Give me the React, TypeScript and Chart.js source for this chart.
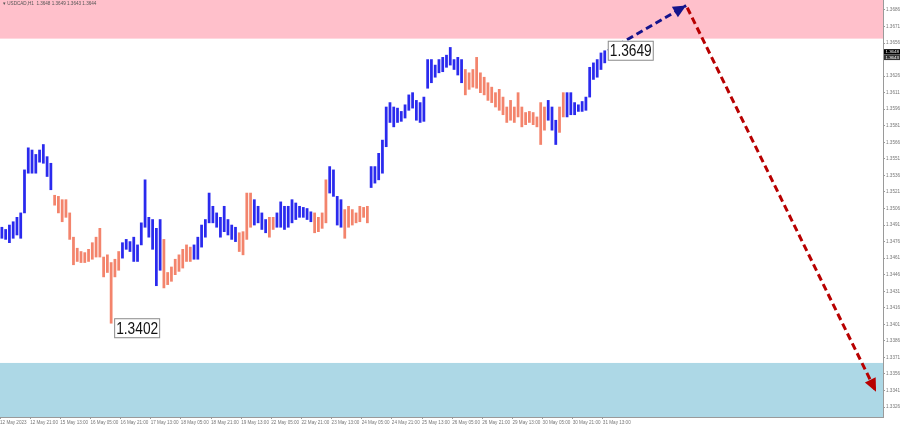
import React, { useEffect, useRef } from "react";
import { Chart, registerables } from "chart.js";
Chart.register(...registerables);

// Each entry = 2 hourly bars (low / high), H1 USDCAD
const barLows = [
  1.3479, 1.3478, 1.3475, 1.3479, 1.3482, 1.3479, 1.3502, 1.3538, 1.3538, 1.3538,
  1.3548, 1.3547, 1.3535, 1.3523, 1.3509, 1.3502, 1.3494, 1.3498, 1.3478, 1.3455,
  1.3458, 1.3457, 1.3457, 1.3458, 1.3460, 1.3462, 1.3462, 1.3444, 1.3448, 1.3402,
  1.3444, 1.3450, 1.3461, 1.3469, 1.3467, 1.3458, 1.3458, 1.3473, 1.3489, 1.3480,
  1.3469, 1.3436, 1.3450, 1.3434, 1.3437, 1.3440, 1.3446, 1.3449, 1.3452, 1.3458,
  1.3458, 1.3460, 1.3460, 1.3471, 1.3480, 1.3493, 1.3493, 1.3489, 1.3480, 1.3485,
  1.3482, 1.3478, 1.3476, 1.3467, 1.3464, 1.3478, 1.3489, 1.3491, 1.3493, 1.3487,
  1.3484, 1.3480, 1.3487, 1.3489, 1.3489, 1.3487, 1.3489, 1.3493, 1.3496, 1.3498,
  1.3498, 1.3496, 1.3494, 1.3484, 1.3485, 1.3488, 1.3493, 1.3520, 1.3517, 1.3491,
  1.3489, 1.3479, 1.3489, 1.3491, 1.3493, 1.3494, 1.3498, 1.3493, 1.3525, 1.3529,
  1.3532, 1.3538, 1.3562, 1.3584, 1.3580, 1.3584, 1.3585, 1.3588, 1.3595, 1.3597,
  1.3586, 1.3584, 1.3585, 1.3615, 1.3620, 1.3625, 1.3629, 1.3630, 1.3634, 1.3636,
  1.3632, 1.3627, 1.3620, 1.3609, 1.3614, 1.3616, 1.3615, 1.3611, 1.3609, 1.3604,
  1.3602, 1.3598, 1.3595, 1.3591, 1.3584, 1.3586, 1.3584, 1.3589, 1.3580, 1.3582,
  1.3584, 1.3582, 1.3580, 1.3564, 1.3577, 1.3586, 1.3577, 1.3564, 1.3575, 1.3589,
  1.3589, 1.3591, 1.3591, 1.3594, 1.3594, 1.3595, 1.3607, 1.3623, 1.3625, 1.3632,
  1.3638,
];
const barHighs = [
  1.3489, 1.3487, 1.3491, 1.3494, 1.3498, 1.3502, 1.3541, 1.3561, 1.3559, 1.3555,
  1.3559, 1.3564, 1.3553, 1.3547, 1.3518, 1.3517, 1.3514, 1.3514, 1.3502, 1.3480,
  1.3470, 1.3467, 1.3466, 1.3469, 1.3475, 1.3480, 1.3488, 1.3462, 1.3464, 1.3457,
  1.3460, 1.3467, 1.3475, 1.3478, 1.3476, 1.3480, 1.3473, 1.3493, 1.3532, 1.3498,
  1.3496, 1.3488, 1.3496, 1.3478, 1.3448, 1.3453, 1.3460, 1.3464, 1.3469, 1.3473,
  1.3471, 1.3473, 1.3480, 1.3491, 1.3496, 1.3520, 1.3508, 1.3502, 1.3498, 1.3508,
  1.3496, 1.3491, 1.3489, 1.3484, 1.3485, 1.3520, 1.3520, 1.3514, 1.3508, 1.3502,
  1.3496, 1.3498, 1.3498, 1.3502, 1.3512, 1.3508, 1.3508, 1.3514, 1.3511, 1.3508,
  1.3507, 1.3506, 1.3503, 1.3502, 1.3498, 1.3502, 1.3532, 1.3544, 1.3541, 1.3517,
  1.3514, 1.3505, 1.3508, 1.3505, 1.3502, 1.3508, 1.3507, 1.3508, 1.3544, 1.3544,
  1.3556, 1.3568, 1.3598, 1.3602, 1.3598, 1.3597, 1.3594, 1.3600, 1.3609, 1.3611,
  1.3604, 1.3602, 1.3607, 1.3641, 1.3641, 1.3636, 1.3641, 1.3643, 1.3645, 1.3652,
  1.3641, 1.3643, 1.3641, 1.3632, 1.3629, 1.3632, 1.3643, 1.3629, 1.3625, 1.3620,
  1.3616, 1.3611, 1.3614, 1.3607, 1.3598, 1.3604, 1.3598, 1.3611, 1.3598, 1.3593,
  1.3594, 1.3593, 1.3589, 1.3602, 1.3598, 1.3604, 1.3598, 1.3586, 1.3598, 1.3611,
  1.3611, 1.3611, 1.3602, 1.3600, 1.3603, 1.3607, 1.3634, 1.3638, 1.3641, 1.3647,
  1.3649,
];
// entry index where each wave segment starts (colours alternate, first is blue)
const waveStarts = [0, 14, 32, 43, 51, 63, 67, 71, 73, 83, 87, 91, 98, 123, 145, 148, 150];
const waveColors = ["#2a2aee", "#f3846c"];
const hoursPerEntry = 2;

const xTickHours = [0, 16, 32, 48, 64, 80, 96, 112, 128, 144, 160, 176, 192, 208, 224, 240, 256, 272, 288, 304, 320];
const xTickLabels = [
  "12 May 2023", "12 May 21:00", "15 May 13:00", "16 May 05:00", "16 May 21:00", "17 May 13:00",
  "18 May 05:00", "18 May 21:00", "19 May 13:00", "22 May 05:00", "22 May 21:00", "23 May 13:00",
  "24 May 05:00", "24 May 21:00", "25 May 13:00", "26 May 05:00", "26 May 21:00", "29 May 13:00",
  "30 May 05:00", "30 May 21:00", "31 May 13:00",
];
const yTickLabels = [
  "1.3686", "1.3671", "1.3656", "1.3626", "1.3611", "1.3596", "1.3581", "1.3566", "1.3551",
  "1.3536", "1.3521", "1.3506", "1.3491", "1.3476", "1.3461", "1.3446", "1.3431", "1.3416",
  "1.3401", "1.3386", "1.3371", "1.3356", "1.3341", "1.3326",
];
const priceMin = 1.3317;
const priceMax = 1.3695;
const hourMax = 468.7;

const resistanceZone = [1.366, 1.3695];
const supportZone = [1.3317, 1.3366];
const forecastUp = [{ x: 322.7, y: 1.3649 }, { x: 364.2, y: 1.369 }];
const forecastDown = [{ x: 364.8, y: 1.3688 }, { x: 465, y: 1.334 }];

const highLabel = { text: "1.3649", hour: 321, price: 1.3649 };
const lowLabel = { text: "1.3402", hour: 59, price: 1.3402 };
const bidAsk = [{ text: "1.3648", price: 1.3648 }, { text: "1.3643", price: 1.3643 }];
const headerText = "USDCAD,H1  1.3648 1.3649 1.3643 1.3644";

function colorFor(i: number) {
  let k = 0;
  for (let s = 0; s < waveStarts.length; s++) if (waveStarts[s] <= i) k = s;
  return waveColors[k % 2];
}

const overlayPlugin = {
  id: "overlay",
  beforeDatasetsDraw(chart: any) {
    const { ctx, chartArea: a, scales } = chart;
    const y = scales.y;
    ctx.save();
    const zone = (z: number[], col: string) => {
      const top = Math.max(a.top, y.getPixelForValue(z[1]));
      const bot = Math.min(a.bottom, y.getPixelForValue(z[0]));
      ctx.fillStyle = col;
      ctx.fillRect(a.left, top, a.right - a.left, bot - top);
    };
    zone(resistanceZone, "#ffc0cb");
    zone(supportZone, "#add8e6");
    ctx.restore();
  },
  afterDatasetsDraw(chart: any) {
    const { ctx, chartArea: a, scales } = chart;
    const x = scales.x;
    const y = scales.y;
    ctx.save();
    // arrowheads
    [[1, "#14148c"], [2, "#b80000"]].forEach(([idx, col]: any) => {
      const pts = chart.getDatasetMeta(idx).data;
      const p0 = pts[pts.length - 2];
      const p1 = pts[pts.length - 1];
      const ang = Math.atan2(p1.y - p0.y, p1.x - p0.x);
      const L = 13, W = 6;
      ctx.fillStyle = col;
      ctx.beginPath();
      ctx.moveTo(p1.x, p1.y);
      ctx.lineTo(p1.x - L * Math.cos(ang) + W * Math.sin(ang), p1.y - L * Math.sin(ang) - W * Math.cos(ang));
      ctx.lineTo(p1.x - L * Math.cos(ang) - W * Math.sin(ang), p1.y - L * Math.sin(ang) + W * Math.cos(ang));
      ctx.closePath();
      ctx.fill();
    });
    // price labels
    const box = (lbl: any, vAlign: string) => {
      const px = x.getPixelForValue(lbl.hour) + 3;
      const py = y.getPixelForValue(lbl.price);
      const w = 46, h = 20;
      const top = vAlign === "center" ? py - h / 2 : py - 5;
      ctx.fillStyle = "#ffffff";
      ctx.fillRect(px, top, w, h);
      ctx.strokeStyle = "#8a8a8a";
      ctx.lineWidth = 1;
      ctx.strokeRect(px + 0.5, top + 0.5, w - 1, h - 1);
      ctx.fillStyle = "#111111";
      ctx.font = "16px 'Liberation Sans', Arial, sans-serif";
      ctx.textBaseline = "middle";
      ctx.textAlign = "left";
      ctx.fillText(lbl.text, px + 2, top + h / 2 + 1, w - 4);
    };
    box(highLabel, "center");
    box(lowLabel, "top");
    // header text
    ctx.fillStyle = "#555555";
    ctx.font = "4.6px 'Liberation Sans', Arial, sans-serif";
    ctx.textBaseline = "middle";
    ctx.textAlign = "left";
    ctx.fillText("\u25BE " + headerText, 3, 4);
    // bid / ask boxes on the price axis
    bidAsk.forEach((b, i) => {
      const py = y.getPixelForValue(b.price);
      ctx.fillStyle = i === 0 ? "#000000" : "#333333";
      ctx.fillRect(a.right + 1, py - 2.7, 16, 5.4);
      ctx.fillStyle = "#ffffff";
      ctx.font = "4.4px 'Liberation Sans', Arial, sans-serif";
      ctx.fillText(b.text, a.right + 2.5, py + 0.2);
    });
    ctx.restore();
  },
};

export default function App() {
  const ref = useRef<HTMLCanvasElement | null>(null);
  useEffect(() => {
    document.body.style.margin = "0";
    const canvas = ref.current!;
    const data = barLows.map((lo, i) => ({ x: i * hoursPerEntry + 1, y: [lo, barHighs[i]] }));
    const chart = new Chart(canvas, {
      type: "bar",
      data: {
        datasets: [
          {
            type: "bar",
            data: data as any,
            backgroundColor: barLows.map((_, i) => colorFor(i)),
            borderWidth: 0,
            barThickness: 2.1,
            grouped: false,
            order: 3,
          } as any,
          {
            type: "line",
            data: forecastUp as any,
            borderColor: "#14148c",
            borderWidth: 3,
            borderDash: [7, 4],
            pointRadius: 0,
            fill: false,
            order: 1,
          } as any,
          {
            type: "line",
            data: forecastDown as any,
            borderColor: "#b80000",
            borderWidth: 3,
            borderDash: [7, 4],
            pointRadius: 0,
            fill: false,
            order: 1,
          } as any,
        ],
      },
      options: {
        responsive: false,
        animation: false,
        devicePixelRatio: 1,
        layout: { padding: 0 },
        plugins: { legend: { display: false }, tooltip: { enabled: false } },
        scales: {
          x: {
            type: "linear",
            min: 0,
            max: hourMax,
            offset: false,
            grid: { drawOnChartArea: false, offset: false, tickLength: 2, color: "#9a9a9a" },
            border: { color: "#9a9a9a" },
            afterBuildTicks: (s: any) => {
              s.ticks = xTickHours.map((v) => ({ value: v }));
            },
            afterFit: (s: any) => {
              s.height = 12;
              s.paddingLeft = 0;
              s.paddingRight = 0;
            },
            ticks: {
              autoSkip: false,
              maxRotation: 0,
              align: "start",
              padding: 1,
              color: "#777777",
              font: { size: 4.6, family: "'Liberation Sans', Arial, sans-serif" },
              callback: (v: any) => {
                const k = xTickHours.indexOf(Number(v));
                return k >= 0 ? xTickLabels[k] : "";
              },
            },
          },
          y: {
            type: "linear",
            position: "right",
            min: priceMin,
            max: priceMax,
            grid: { drawOnChartArea: false, tickLength: 2, color: "#9a9a9a" },
            border: { color: "#9a9a9a" },
            afterBuildTicks: (s: any) => {
              s.ticks = yTickLabels.map((t) => ({ value: parseFloat(t) }));
            },
            afterFit: (s: any) => {
              s.width = 17;
              s.paddingTop = 0;
              s.paddingBottom = 0;
            },
            ticks: {
              autoSkip: false,
              padding: 1,
              color: "#777777",
              font: { size: 4.6, family: "'Liberation Sans', Arial, sans-serif" },
              callback: (v: any) => Number(v).toFixed(4),
            },
          },
        },
      } as any,
      plugins: [overlayPlugin],
    });
    return () => chart.destroy();
  }, []);
  return (
    <div style={{ width: 900, height: 429, background: "#ffffff" }}>
      <canvas ref={ref} width={900} height={429} style={{ display: "block", width: 900, height: 429 }} />
    </div>
  );
}
